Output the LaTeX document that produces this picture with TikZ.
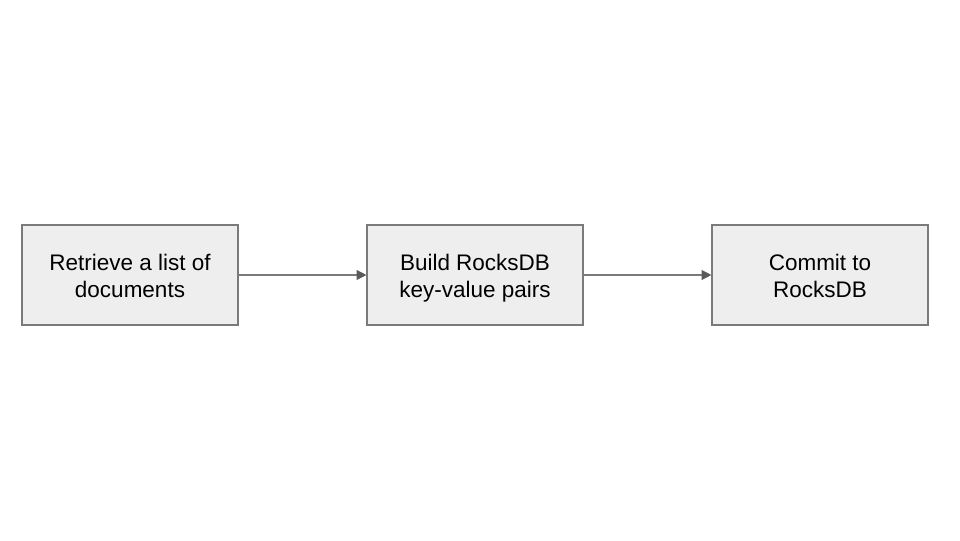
\documentclass[tikz,border=0pt]{standalone}
\usepackage{xcolor}
\usepackage{fontspec}
\setmainfont{Liberation Sans}
\usepackage{tikz}
\usetikzlibrary{arrows.meta}

\definecolor{boxfill}{HTML}{EEEEEE}
\definecolor{boxline}{HTML}{7A7A7A}
\definecolor{arrowtip}{HTML}{595959}

% top strut pushes the two lines a bit below the middle
\newcommand{\topstrut}{\rule{0pt}{19pt}}

\tikzset{
    stepbox/.style={rectangle, draw=boxline, fill=boxfill, line width=0.8pt,
        minimum width=5.4cm, minimum height=2.5cm, align=center,
        font=\fontsize{16}{19.5}\selectfont},
    flow/.style={draw=boxline, line width=0.9pt,
        -{Triangle[length=7pt, width=7pt, fill=arrowtip, color=arrowtip]}}
}

\begin{document}
\begin{tikzpicture}
        \useasboundingbox (0, 0) rectangle (24, 13.5);

        \node[stepbox] at (3.25, 6.625) (retrieve) {\topstrut Retrieve a list of\\documents\strut};
        \node[stepbox] at (11.875, 6.625) (build) {\topstrut Build RocksDB\\key-value pairs\strut};
        \node[stepbox] at (20.5, 6.625) (commit) {\topstrut Commit to\\RocksDB\strut};

        \draw[flow] (retrieve) -- (build);
        \draw[flow] (build) -- (commit);
    \end{tikzpicture}
\end{document}
